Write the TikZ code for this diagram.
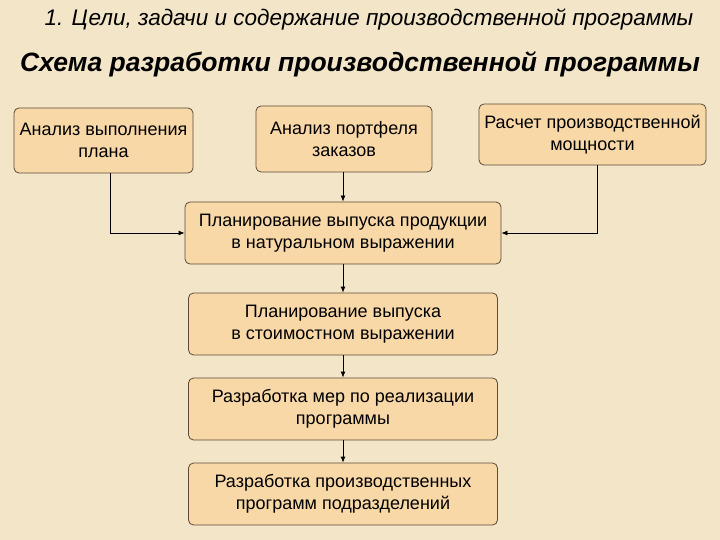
\documentclass[tikz,border=0pt]{standalone}
\usepackage{fontspec}
\setmainfont{Liberation Sans}
\usetikzlibrary{arrows.meta}
\definecolor{bg}{HTML}{F3E5C8}
\definecolor{boxfill}{HTML}{F9D8A8}
\definecolor{boxline}{HTML}{5A4A3A}
\tikzset{
  box/.style={draw=boxline, line width=0.8pt, rounded corners=5pt, fill=boxfill, align=center, font=\fontsize{18}{22}\selectfont, inner sep=0pt},
  conn/.style={draw=black, line width=0.8pt, -{Latex[length=6pt,width=5pt]}}
}
\begin{document}
\begin{tikzpicture}[x=1pt,y=-1pt]
\fill[bg] (0,0) rectangle (720,540);
\useasboundingbox (0,0) rectangle (720,540);
\node[font=\itshape\fontsize{22.5}{26}\selectfont] (t1) at (369,20) {1. Цели, задачи и содержание производственной программы};
\node[font=\bfseries\itshape\fontsize{26.5}{30}\selectfont] (t2) at (360,64) {Схема разработки производственной программы};
\node[box, minimum width=179pt, minimum height=65pt] (b1) at (103.5,140.5) {Анализ выполнения\\плана};
\node[box, minimum width=176pt, minimum height=66pt] (b2) at (344,139) {Анализ портфеля\\заказов};
\node[box, minimum width=227pt, minimum height=61pt] (b3) at (592.5,134.5) {Расчет производственной\\мощности};
\node[box, minimum width=316pt, minimum height=62pt] (b4) at (343,233) {Планирование выпуска продукции\\в натуральном выражении};
\node[box, minimum width=309pt, minimum height=62pt] (b5) at (343,324) {Планирование выпуска\\в стоимостном выражении};
\node[box, minimum width=309pt, minimum height=62pt] (b6) at (343,409) {Разработка мер по реализации\\программы};
\node[box, minimum width=309pt, minimum height=62pt] (b7) at (343,494) {Разработка производственных\\программ подразделений};
\draw[conn] (b2.south -| b4.north) -- (b4.north);
\draw[conn] (b1.south -| 110,0) -- (110,233) -- (b4.west);
\draw[conn] (b3.south -| 597,0) -- (597,233) -- (b4.east);
\draw[conn] (b4.south) -- (b5.north);
\draw[conn] (b5.south) -- (b6.north);
\draw[conn] (b6.south) -- (b7.north);
\end{tikzpicture}
\end{document}
